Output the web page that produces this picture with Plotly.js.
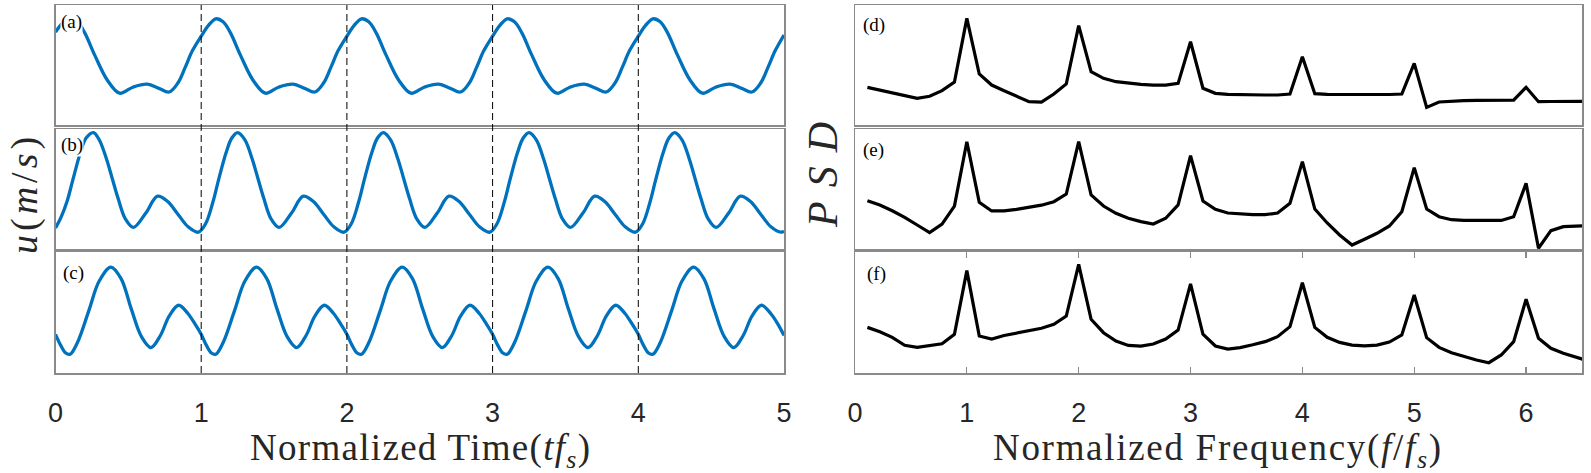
<!DOCTYPE html>
<html>
<head>
<meta charset="utf-8">
<script src="https://cdn.plot.ly/plotly-3.0.1.min.js"></script>
<style>html,body{margin:0;padding:0;background:#fff;}#chart{width:1591px;height:473px;}</style>
</head>
<body>
<div id="chart"></div>
<script>
// ---- Time-domain signals (normalized units, panel height = 1) ----
var timeA = [0,0.05,0.10,0.15,0.20,0.27,0.355,0.44,0.53,0.63,0.71,0.78,0.84,0.89,0.94,
  1,1.05,1.10,1.15,1.20,1.27,1.355,1.44,1.53,1.63,1.71,1.78,1.84,1.89,1.94,
  2,2.05,2.10,2.15,2.20,2.27,2.355,2.44,2.53,2.63,2.71,2.78,2.84,2.89,2.94,
  3,3.05,3.10,3.15,3.20,3.27,3.355,3.44,3.53,3.63,3.71,3.78,3.84,3.89,3.94,
  4,4.05,4.10,4.15,4.20,4.27,4.355,4.44,4.53,4.63,4.71,4.78,4.84,4.89,4.94,5];
var uA = [0.775,0.85,0.885,0.86,0.77,0.58,0.375,0.265,0.315,0.34,0.305,0.275,0.35,0.48,0.62,
  0.74,0.83,0.885,0.86,0.77,0.58,0.375,0.265,0.315,0.34,0.305,0.275,0.35,0.48,0.62,
  0.74,0.83,0.885,0.86,0.77,0.58,0.375,0.265,0.315,0.34,0.305,0.275,0.35,0.48,0.62,
  0.74,0.83,0.885,0.86,0.77,0.58,0.375,0.265,0.315,0.34,0.305,0.275,0.35,0.48,0.62,
  0.74,0.83,0.885,0.86,0.77,0.58,0.375,0.265,0.315,0.34,0.305,0.275,0.35,0.48,0.62,0.75];

var timeB = [0,0.04,0.08,0.12,0.17,0.21,0.26,0.30,0.35,0.39,0.43,0.48,0.535,0.62,0.70,0.77,0.84,0.91,0.98,
  1.03,1.08,1.12,1.17,1.21,1.25,1.30,1.35,1.39,1.43,1.48,1.535,1.62,1.70,1.77,1.84,1.91,1.98,
  2.03,2.08,2.12,2.17,2.21,2.25,2.30,2.35,2.39,2.43,2.48,2.535,2.62,2.70,2.77,2.84,2.91,2.98,
  3.03,3.08,3.12,3.17,3.21,3.25,3.30,3.35,3.39,3.43,3.48,3.535,3.62,3.70,3.77,3.84,3.91,3.98,
  4.03,4.08,4.12,4.17,4.21,4.25,4.30,4.35,4.39,4.43,4.48,4.535,4.62,4.70,4.77,4.84,4.91,4.98,5];
var uB = [0.175,0.27,0.40,0.58,0.80,0.925,0.97,0.91,0.75,0.585,0.42,0.25,0.18,0.30,0.44,0.395,0.29,0.185,0.14,
  0.21,0.39,0.58,0.80,0.925,0.97,0.91,0.75,0.585,0.42,0.25,0.18,0.30,0.44,0.395,0.29,0.185,0.14,
  0.21,0.39,0.58,0.80,0.925,0.97,0.91,0.75,0.585,0.42,0.25,0.18,0.30,0.44,0.395,0.29,0.185,0.14,
  0.21,0.39,0.58,0.80,0.925,0.97,0.91,0.75,0.585,0.42,0.25,0.18,0.30,0.44,0.395,0.29,0.185,0.14,
  0.21,0.39,0.58,0.80,0.925,0.97,0.91,0.75,0.585,0.42,0.25,0.18,0.30,0.44,0.395,0.29,0.185,0.14,0.15];

var timeC = [0,0.035,0.07,0.10,0.15,0.23,0.30,0.38,0.45,0.52,0.59,0.655,0.72,0.78,0.845,0.91,0.96,
  1,1.035,1.07,1.10,1.15,1.23,1.30,1.38,1.45,1.52,1.59,1.655,1.72,1.78,1.845,1.91,1.96,
  2,2.035,2.07,2.10,2.15,2.23,2.30,2.38,2.45,2.52,2.59,2.655,2.72,2.78,2.845,2.91,2.96,
  3,3.035,3.07,3.10,3.15,3.23,3.30,3.38,3.45,3.52,3.59,3.655,3.72,3.78,3.845,3.91,3.96,
  4,4.035,4.07,4.10,4.15,4.23,4.30,4.38,4.45,4.52,4.59,4.655,4.72,4.78,4.845,4.91,4.96,5];
var uC = [0.32,0.23,0.165,0.155,0.25,0.52,0.76,0.875,0.78,0.53,0.30,0.21,0.31,0.47,0.56,0.49,0.40,
  0.32,0.23,0.165,0.155,0.25,0.52,0.76,0.875,0.78,0.53,0.30,0.21,0.31,0.47,0.56,0.49,0.40,
  0.32,0.23,0.165,0.155,0.25,0.52,0.76,0.875,0.78,0.53,0.30,0.21,0.31,0.47,0.56,0.49,0.40,
  0.32,0.23,0.165,0.155,0.25,0.52,0.76,0.875,0.78,0.53,0.30,0.21,0.31,0.47,0.56,0.49,0.40,
  0.32,0.23,0.165,0.155,0.25,0.52,0.76,0.875,0.78,0.53,0.30,0.21,0.31,0.47,0.56,0.49,0.40,0.31];

// ---- PSD (normalized units) ----
var freq = [0.111,0.222,0.333,0.444,0.556,0.667,0.778,0.889,1.000,
  1.111,1.222,1.333,1.444,1.556,1.667,1.778,1.889,2.000,
  2.111,2.222,2.333,2.444,2.556,2.667,2.778,2.889,3.000,
  3.111,3.222,3.333,3.444,3.556,3.667,3.778,3.889,4.000,
  4.111,4.222,4.333,4.444,4.556,4.667,4.778,4.889,5.000,
  5.111,5.222,5.333,5.444,5.556,5.667,5.778,5.889,6.000,
  6.111,6.222,6.333,6.444,6.556];
var psdD = [0.314,0.292,0.264,0.244,0.222,0.239,0.286,0.358,0.889,
  0.425,0.333,0.286,0.242,0.194,0.190,0.258,0.342,0.828,
  0.444,0.389,0.361,0.347,0.339,0.333,0.333,0.347,0.694,
  0.306,0.264,0.256,0.252,0.250,0.250,0.250,0.258,0.569,
  0.261,0.256,0.254,0.254,0.254,0.254,0.254,0.258,0.514,
  0.147,0.192,0.200,0.203,0.205,0.206,0.207,0.208,0.314,
  0.194,0.196,0.197,0.198,0.198];
var psdE = [0.403,0.367,0.319,0.264,0.200,0.136,0.208,0.358,0.894,
  0.389,0.317,0.317,0.330,0.347,0.365,0.394,0.458,0.894,
  0.450,0.358,0.297,0.256,0.228,0.208,0.256,0.367,0.778,
  0.400,0.331,0.300,0.290,0.286,0.286,0.300,0.381,0.728,
  0.333,0.217,0.117,0.033,0.081,0.131,0.192,0.311,0.678,
  0.333,0.269,0.244,0.238,0.236,0.236,0.238,0.269,0.547,
  0.006,0.153,0.186,0.192,0.194];
var psdF = [0.377,0.341,0.295,0.229,0.212,0.229,0.242,0.320,0.846,
  0.306,0.281,0.310,0.330,0.350,0.370,0.402,0.471,0.898,
  0.444,0.333,0.264,0.228,0.223,0.240,0.281,0.355,0.736,
  0.320,0.223,0.198,0.210,0.233,0.259,0.300,0.383,0.746,
  0.377,0.295,0.253,0.230,0.225,0.230,0.256,0.314,0.645,
  0.292,0.212,0.168,0.135,0.107,0.085,0.149,0.259,0.609,
  0.287,0.204,0.163,0.130,0.100];

var timeTicks = [0,1,2,3,4,5];
var freqTicks = [0,1,2,3,4,5,6];
var dashedTimes = [1,2,3,4];
var panelLabels = ['(a)','(b)','(c)','(d)','(e)','(f)'];

var BLUE = '#0072BD';
var traces = [
  {x: timeA, y: uA, xaxis:'x', yaxis:'y'},
  {x: timeB, y: uB, xaxis:'x2', yaxis:'y2'},
  {x: timeC, y: uC, xaxis:'x3', yaxis:'y3'}
].map(function(t){ t.type='scatter'; t.mode='lines'; t.line={color:BLUE,width:3.3,shape:'spline',smoothing:1}; t.hoverinfo='skip'; return t; });
[[psdD,'x4','y4'],[psdE,'x5','y5'],[psdF,'x6','y6']].forEach(function(p){
  traces.push({type:'scatter',mode:'lines',x:freq,y:p[0],xaxis:p[1],yaxis:p[2],
    line:{color:'#000',width:3.2},hoverinfo:'skip'});
});

var W=1591,H=473;
function px(v){return v/W;}
function py(v){return 1-v/H;}
var leftDom=[px(55.5),px(784)], rightDom=[px(855),px(1582)];
var rows=[[py(125),py(5)],[py(249),py(129)],[py(373),py(252)]];
var BORDER='#8a8a8a';
function xa(dom, rng, ticks, bottom, anchor, right){
  return {domain:dom, range:rng, anchor:anchor, showline:true, linecolor:BORDER, linewidth:1.5,
    mirror: (bottom && right)?'ticks':true, showgrid:false, zeroline:false,
    tickvals:ticks, ticktext:ticks.map(String), showticklabels:bottom,
    tickfont:{family:'Liberation Sans, Arial, sans-serif', size:27, color:'#262626'},
    ticks:(bottom && right)?'inside':'', ticklen:6, tickcolor:BORDER, tickwidth:1.2,
    ticklabelstandoff:15, fixedrange:true};
}
function ya(dom, anchor){
  return {domain:dom, range:[0,1], anchor:anchor, showline:true, linecolor:BORDER, linewidth:1.5,
    mirror:true, showgrid:false, zeroline:false, showticklabels:false, ticks:'', fixedrange:true};
}
var layout = {
  width:W, height:H, margin:{l:0,r:0,t:0,b:0}, showlegend:false,
  paper_bgcolor:'#fff', plot_bgcolor:'rgba(0,0,0,0)',
  xaxis: xa(leftDom,[0,5],timeTicks,false,'y',false),
  xaxis2: xa(leftDom,[0,5],timeTicks,false,'y2',false),
  xaxis3: xa(leftDom,[0,5],timeTicks,true,'y3',false),
  xaxis4: xa(rightDom,[0,6.5],freqTicks,false,'y4',true),
  xaxis5: xa(rightDom,[0,6.5],freqTicks,false,'y5',true),
  xaxis6: xa(rightDom,[0,6.5],freqTicks,true,'y6',true),
  yaxis: ya(rows[0],'x'), yaxis2: ya(rows[1],'x2'), yaxis3: ya(rows[2],'x3'),
  yaxis4: ya(rows[0],'x4'), yaxis5: ya(rows[1],'x5'), yaxis6: ya(rows[2],'x6'),
  shapes: dashedTimes.map(function(t){
    return {type:'line', xref:'x', yref:'paper', x0:t, x1:t, y0:rows[2][0], y1:rows[0][1],
      line:{color:'#000', width:1, dash:'7px,4px'}, layer:'above'};
  }),
  annotations: []
};
var labelPos = [[60,22],[59.5,145],[61.5,273],[862,25],[862,149.5],[866,274]];
panelLabels.forEach(function(l,i){
  layout.annotations.push({text:l, xref:'paper', yref:'paper', x:px(labelPos[i][0]), y:py(labelPos[i][1]),
    xanchor:'left', yanchor:'middle', showarrow:false, bgcolor:'#fff', borderpad:0,
    font:{family:'Liberation Serif, Times New Roman, serif', size:19, color:'#000'}});
});
var serif='Liberation Serif, Times New Roman, serif';
layout.annotations.push(
  {text:'<span style="letter-spacing:1.3px">Normalized Time(<i>tf</i><sub><i>s</i></sub>)</span>', xref:'paper', yref:'paper', x:px(420), y:py(450),
   xanchor:'center', yanchor:'middle', showarrow:false, font:{family:serif,size:37,color:'#262626'}},
  {text:'<span style="letter-spacing:1.7px">Normalized Frequency(<i>f</i>/<i>f</i><sub><i>s</i></sub>)</span>', xref:'paper', yref:'paper', x:px(1218), y:py(450),
   xanchor:'center', yanchor:'middle', showarrow:false, font:{family:serif,size:37,color:'#262626'}},
  {text:'<span style="letter-spacing:4px"><i>u</i>(<i>m</i>/<i>s</i>)</span>', xref:'paper', yref:'paper', x:px(24), y:py(194),
   xanchor:'center', yanchor:'middle', textangle:-90, showarrow:false, font:{family:serif,size:38,color:'#262626'}},
  {text:'<i>P\u2004S\u2004D</i>', xref:'paper', yref:'paper', x:px(823), y:py(175),
   xanchor:'center', yanchor:'middle', textangle:-90, showarrow:false, font:{family:serif,size:42,color:'#262626'}}
);
Plotly.newPlot('chart', traces, layout, {displayModeBar:false, staticPlot:true});
</script>
</body>
</html>
